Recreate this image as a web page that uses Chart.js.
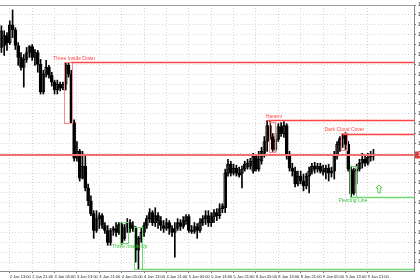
<!DOCTYPE html>
<html>
<head>
<meta charset="utf-8">
<script src="https://cdn.jsdelivr.net/npm/chart.js@4.4.1/dist/chart.umd.min.js"></script>
<style>
html, body { margin: 0; padding: 0; background: #fff; overflow: hidden; width: 420px; height: 280px; }
canvas { display: block; }
</style>
</head>
<body>
<canvas id="priceChart" width="445" height="280"></canvas>
<script>
// H1 candles
const opens = [
  1.2257,1.2259,1.2269,1.2262,1.2280,1.2275,1.2259,1.2247,1.2237,1.2245,
  1.2252,1.2258,1.2247,1.2252,1.2240,1.2212,1.2230,1.2237,1.2229,1.2222,
  1.2214,1.2220,1.2216,1.2220,1.2239,1.2230,1.2181,1.2145,1.2152,1.2125,
  1.2137,1.2115,1.2102,1.2089,1.2072,1.2084,1.2087,1.2077,1.2072,1.2060,
  1.2072,1.2074,1.2070,1.2078,1.2064,1.2075,1.2080,1.2074,1.2075,1.2052,
  1.2064,1.2070,1.2077,1.2084,1.2090,1.2080,1.2087,1.2082,1.2077,1.2074,
  1.2080,1.2074,1.2070,1.2074,1.2080,1.2076,1.2082,1.2086,1.2072,1.2071,
  1.2076,1.2072,1.2080,1.2084,1.2087,1.2080,1.2086,1.2090,1.2087,1.2094,
  1.2095,1.2130,1.2139,1.2130,1.2135,1.2130,1.2130,1.2134,1.2136,1.2137,
  1.2132,1.2147,1.2134,1.2142,1.2150,1.2162,1.2178,1.2167,1.2154,1.2164,
  1.2177,1.2170,1.2178,1.2147,1.2135,1.2132,1.2119,1.2127,1.2122,1.2117,
  1.2127,1.2132,1.2137,1.2134,1.2137,1.2132,1.2131,1.2135,1.2130,1.2132,
  1.2147,1.2159,1.2165,1.2169,1.2159,1.2134,1.2110,1.2132,1.2134,1.2140,
  1.2144,1.2140,1.2146,1.2147
];
const highs = [
  1.2279,1.2274,1.2272,1.2284,1.2295,1.2277,1.2262,1.2252,1.2250,1.2257,
  1.2259,1.2260,1.2255,1.2254,1.2245,1.2234,1.2244,1.2239,1.2232,1.2224,
  1.2224,1.2222,1.2222,1.2242,1.2241,1.2234,1.2184,1.2162,1.2154,1.2152,
  1.2147,1.2119,1.2107,1.2092,1.2092,1.2090,1.2089,1.2080,1.2077,1.2074,
  1.2076,1.2080,1.2080,1.2080,1.2078,1.2084,1.2083,1.2081,1.2076,1.2066,
  1.2074,1.2080,1.2087,1.2094,1.2092,1.2095,1.2090,1.2086,1.2082,1.2084,
  1.2082,1.2077,1.2080,1.2084,1.2083,1.2086,1.2088,1.2088,1.2077,1.2080,
  1.2079,1.2084,1.2087,1.2092,1.2092,1.2090,1.2093,1.2094,1.2099,1.2099,
  1.2134,1.2144,1.2142,1.2139,1.2138,1.2136,1.2137,1.2142,1.2144,1.2145,
  1.2150,1.2149,1.2152,1.2156,1.2167,1.2183,1.2182,1.2170,1.2170,1.2180,
  1.2181,1.2182,1.2180,1.2152,1.2140,1.2136,1.2132,1.2132,1.2129,1.2130,
  1.2136,1.2140,1.2141,1.2140,1.2140,1.2138,1.2138,1.2139,1.2136,1.2152,
  1.2162,1.2167,1.2170,1.2171,1.2162,1.2137,1.2135,1.2139,1.2144,1.2150,
  1.2149,1.2150,1.2152,1.2154
];
const lows = [
  1.2252,1.2249,1.2254,1.2260,1.2267,1.2255,1.2239,1.2234,1.2217,1.2242,
  1.2247,1.2244,1.2239,1.2232,1.2210,1.2210,1.2227,1.2226,1.2218,1.2210,
  1.2210,1.2213,1.2214,1.2214,1.2227,1.2180,1.2142,1.2142,1.2122,1.2124,
  1.2112,1.2097,1.2087,1.2064,1.2070,1.2074,1.2074,1.2069,1.2057,1.2057,
  1.2067,1.2066,1.2068,1.2058,1.2062,1.2070,1.2070,1.2071,1.2040,1.2033,
  1.2060,1.2066,1.2074,1.2080,1.2077,1.2076,1.2074,1.2072,1.2070,1.2072,
  1.2068,1.2066,1.2045,1.2072,1.2072,1.2074,1.2078,1.2070,1.2069,1.2069,
  1.2064,1.2070,1.2077,1.2078,1.2076,1.2076,1.2080,1.2082,1.2084,1.2090,
  1.2090,1.2127,1.2127,1.2128,1.2127,1.2126,1.2115,1.2132,1.2134,1.2134,
  1.2130,1.2132,1.2132,1.2139,1.2146,1.2152,1.2164,1.2152,1.2152,1.2162,
  1.2167,1.2166,1.2144,1.2132,1.2127,1.2116,1.2117,1.2119,1.2112,1.2114,
  1.2110,1.2129,1.2130,1.2131,1.2130,1.2128,1.2124,1.2122,1.2126,1.2124,
  1.2144,1.2152,1.2156,1.2154,1.2132,1.2106,1.2108,1.2119,1.2132,1.2135,
  1.2137,1.2138,1.2142,1.2143
];
const closes = [
  1.2274,1.2269,1.2262,1.2280,1.2275,1.2259,1.2247,1.2237,1.2245,1.2252,
  1.2258,1.2247,1.2252,1.2240,1.2212,1.2230,1.2237,1.2229,1.2222,1.2214,
  1.2220,1.2216,1.2220,1.2239,1.2230,1.2181,1.2145,1.2152,1.2125,1.2137,
  1.2115,1.2102,1.2089,1.2072,1.2084,1.2087,1.2077,1.2072,1.2060,1.2072,
  1.2074,1.2070,1.2078,1.2060,1.2075,1.2080,1.2074,1.2077,1.2052,1.2064,
  1.2070,1.2077,1.2084,1.2090,1.2080,1.2087,1.2082,1.2077,1.2074,1.2080,
  1.2074,1.2070,1.2074,1.2080,1.2076,1.2082,1.2086,1.2072,1.2071,1.2076,
  1.2072,1.2080,1.2084,1.2087,1.2080,1.2086,1.2090,1.2087,1.2094,1.2097,
  1.2130,1.2139,1.2130,1.2135,1.2130,1.2128,1.2134,1.2139,1.2140,1.2142,
  1.2147,1.2134,1.2144,1.2152,1.2162,1.2178,1.2167,1.2154,1.2164,1.2177,
  1.2170,1.2178,1.2147,1.2135,1.2132,1.2119,1.2127,1.2122,1.2117,1.2127,
  1.2132,1.2137,1.2134,1.2137,1.2132,1.2131,1.2135,1.2130,1.2132,1.2147,
  1.2159,1.2165,1.2168,1.2159,1.2134,1.2109,1.2132,1.2134,1.2140,1.2144,
  1.2140,1.2146,1.2147,1.2148
];

// time axis: one label every 8 bars, starting at bar 3
const timeLabels = [
  '2 Jan 13:00','2 Jan 21:00','3 Jan 05:00','3 Jan 13:00','3 Jan 21:00',
  '4 Jan 05:00','4 Jan 13:00','4 Jan 21:00','5 Jan 05:00','5 Jan 13:00',
  '5 Jan 21:00','8 Jan 05:00','8 Jan 13:00','8 Jan 21:00','9 Jan 05:00',
  '9 Jan 13:00','9 Jan 21:00'
];
const firstLabelBar = 3;
const barsPerLabel = 8;
const emptySlots = 14; // chart shift on the right

// price axis
const priceMin = 1.2031;
const priceMax = 1.2300;
const priceStep = 0.0010;

// candle patterns found
const patternNames  = ['Three Inside Down', 'Harami', 'Dark Cloud Cover', 'Piercing Line', 'Three Inside Up'];
const patternBull   = [false, false, false, true, true];
const patternLevel  = [1.2242, 1.2184, 1.2170, 1.2106, 1.2033];
const patternFrom   = [25, 95, 122, 125, 50];
const patternTextBar   = [19, 95, 116, 121, 40];
const patternTextPrice = [1.2242, 1.2184, 1.2170, 1.2106, 1.2060];
const boxFrom   = [23, 96, 122, 125, 43, 48];
const boxTo     = [25, 97, 123, 126, 45, 50];
const boxHigh   = [1.2242, 1.2182, 1.2171, 1.2137, 1.2081, 1.2075];
const boxLow    = [1.2180, 1.2152, 1.2154, 1.2106, 1.2060, 1.2033];
const boxBull   = [false, false, false, true, true, true];
const arrowBar  = 135;
const arrowTip  = 1.2118;
const arrowBase = 1.2110;

const RED = '#ff4545';
const GREEN = '#6fd86f';

const slotCount = opens.length + emptySlots;
const categories = [];
for (let i = 0; i < slotCount; i++) {
  const k = (i - firstLabelBar) / barsPerLabel;
  categories.push(i < opens.length && Number.isInteger(k) && k >= 0 && k < timeLabels.length ? timeLabels[k] : '');
}

const wicks = opens.map((o, i) => [lows[i], highs[i]]);
const bodies = opens.map((o, i) => [o, closes[i]]);
const bodyFill = opens.map((o, i) => closes[i] >= o ? '#ffffff' : '#000000');

const overlay = {
  id: 'overlay',
  afterDatasetsDraw(chart) {
    const {ctx, chartArea: a, scales: {x, y}} = chart;
    const slot = x.getPixelForValue(1) - x.getPixelForValue(0);
    ctx.save();
    ctx.setLineDash([]);

    // bid line
    const bid = closes[closes.length - 1];
    const by = Math.round(y.getPixelForValue(bid));
    ctx.strokeStyle = 'rgb(242, 112, 112)';
    ctx.lineWidth = 2;
    ctx.beginPath(); ctx.moveTo(a.left, by); ctx.lineTo(a.right, by); ctx.stroke();

    // pattern boxes
    boxFrom.forEach((b, i) => {
      const x1 = x.getPixelForValue(b) - slot / 2;
      const x2 = x.getPixelForValue(boxTo[i]) + slot / 2;
      const y1 = y.getPixelForValue(boxHigh[i]);
      const y2 = y.getPixelForValue(boxLow[i]);
      ctx.strokeStyle = boxBull[i] ? GREEN : '#ff8a8a';
      ctx.lineWidth = 1;
      ctx.strokeRect(Math.round(x1) + 0.5, Math.round(y1) + 0.5, Math.round(x2 - x1), Math.round(y2 - y1));
    });

    // levels and names
    ctx.font = '5px "Liberation Sans", Arial, sans-serif';
    patternNames.forEach((name, i) => {
      const col = patternBull[i] ? GREEN : RED;
      const ly = Math.round(y.getPixelForValue(patternLevel[i])) + 0.5;
      ctx.strokeStyle = col;
      ctx.lineWidth = 1.5;
      ctx.beginPath();
      ctx.moveTo(x.getPixelForValue(patternFrom[i]), ly);
      ctx.lineTo(a.right, ly);
      ctx.stroke();
      ctx.fillStyle = patternBull[i] ? '#3cc03c' : RED;
      ctx.textAlign = 'left';
      const tx = x.getPixelForValue(patternTextBar[i]) - slot / 2;
      const ty = y.getPixelForValue(patternTextPrice[i]);
      if (patternBull[i]) {
        ctx.textBaseline = 'top';
        ctx.fillText(name, tx, ty + 1.5);
      } else {
        ctx.textBaseline = 'bottom';
        ctx.fillText(name, tx, ty - 1);
      }
    });

    // up arrow
    const ax = x.getPixelForValue(arrowBar);
    const at = y.getPixelForValue(arrowTip);
    const ab = y.getPixelForValue(arrowBase);
    ctx.beginPath();
    ctx.moveTo(ax, at);
    ctx.lineTo(ax + 3, at + 3);
    ctx.lineTo(ax + 1.3, at + 3);
    ctx.lineTo(ax + 1.3, ab);
    ctx.lineTo(ax - 1.3, ab);
    ctx.lineTo(ax - 1.3, at + 3);
    ctx.lineTo(ax - 3, at + 3);
    ctx.closePath();
    ctx.fillStyle = '#fff';
    ctx.fill();
    ctx.strokeStyle = '#55cc55';
    ctx.lineWidth = 1;
    ctx.stroke();

    // top frame line
    ctx.strokeStyle = '#9a9a9a';
    ctx.beginPath(); ctx.moveTo(a.left, a.top + 0.5); ctx.lineTo(a.right, a.top + 0.5); ctx.stroke();

    // bid marker on the price axis
    ctx.fillStyle = '#e03c3c';
    ctx.fillRect(a.right + 1, by - 3.5, 30, 7);
    ctx.fillStyle = '#fff';
    ctx.textBaseline = 'middle';
    ctx.font = '5px "Liberation Sans", Arial, sans-serif';
    ctx.fillText(bid.toFixed(4), a.right + 4, by);
    ctx.restore();
  }
};

new Chart(document.getElementById('priceChart'), {
  type: 'bar',
  data: {
    labels: categories,
    datasets: [{
      label: 'wick',
      data: wicks,
      backgroundColor: '#000',
      barThickness: 1,
      grouped: false,
      minBarLength: 1
    }, {
      label: 'body',
      data: bodies,
      backgroundColor: bodyFill,
      borderColor: '#000',
      borderWidth: 1,
      borderSkipped: false,
      barThickness: 3,
      grouped: false,
      minBarLength: 1
    }]
  },
  options: {
    responsive: false,
    animation: false,
    layout: { padding: { top: 1, left: 0, right: 0, bottom: 0 } },
    plugins: { legend: { display: false }, tooltip: { enabled: false } },
    scales: {
      x: {
        offset: true,
        afterBuildTicks: scale => {
          scale.ticks = scale.ticks.filter(t => categories[t.value] !== '');
        },
        afterFit: scale => { scale.height = 9; },
        ticks: {
          autoSkip: false,
          maxRotation: 0,
          minRotation: 0,
          align: 'start',
          padding: 1,
          color: '#222',
          font: { size: 4, family: '"Liberation Sans", Arial, sans-serif' }
        },
        grid: { offset: false, color: '#d6d6d6', tickColor: '#777', tickLength: 2 },
        border: { display: true, color: '#8a8a8a', dash: [1, 2] }
      },
      y: {
        position: 'right',
        min: priceMin,
        max: priceMax,
        afterFit: scale => { scale.width = 31; },
        ticks: {
          stepSize: priceStep,
          includeBounds: false,
          padding: 2,
          color: '#222',
          font: { size: 5, family: '"Liberation Sans", Arial, sans-serif' },
          callback: v => v.toFixed(4)
        },
        grid: { color: '#d6d6d6', tickColor: '#777', tickLength: 2 },
        border: { display: true, color: '#8a8a8a', dash: [1, 2] }
      }
    }
  },
  plugins: [overlay]
});
</script>
</body>
</html>
